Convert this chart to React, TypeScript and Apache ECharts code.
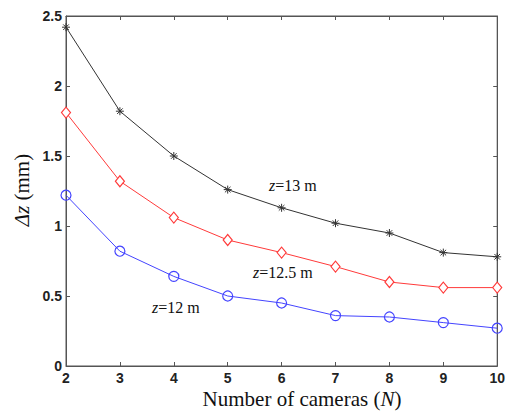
import React, { useEffect, useRef } from "react";
import * as echarts from "echarts";

const cameras = [2, 3, 4, 5, 6, 7, 8, 9, 10];
const z13 = [2.42, 1.82, 1.5, 1.26, 1.13, 1.02, 0.95, 0.81, 0.78];
const z125 = [1.81, 1.32, 1.06, 0.9, 0.81, 0.71, 0.6, 0.56, 0.56];
const z12 = [1.22, 0.82, 0.64, 0.5, 0.45, 0.36, 0.35, 0.31, 0.27];

const SERIF = "'Liberation Serif', 'Times New Roman', serif";
const SANS = "'Liberation Sans', Arial, sans-serif";
const AXIS = "#555";

const starPath = "path://M0,-10L0,10M-10,0L10,0M-7,-7L7,7M-7,7L7,-7";

function pairs(ys: number[]) {
  return cameras.map((x, i) => [x, ys[i]]);
}

export default function App() {
  const ref = useRef<HTMLDivElement>(null);
  useEffect(() => {
    document.body.style.margin = "0";
    const chart = echarts.init(ref.current!, undefined, { renderer: "svg" });
    const tickStyle = { show: true, inside: true, length: 4, lineStyle: { color: AXIS } };
    const lineStyle = { color: AXIS, width: 1 };
    const lab = { color: "#222", fontFamily: SANS, fontSize: 14, fontWeight: "bold" };
    chart.setOption({
      animation: false,
      backgroundColor: "#fff",
      grid: { left: 66, right: 9, top: 16, bottom: 46, show: true, borderColor: AXIS, borderWidth: 1 },
      xAxis: [
        {
          type: "value",
          min: 2,
          max: 10,
          interval: 1,
          axisLine: { show: true, lineStyle },
          axisTick: tickStyle,
          splitLine: { show: false },
          axisLabel: { ...lab, margin: 5 },
        },
        {
          type: "value",
          position: "top",
          min: 2,
          max: 10,
          interval: 1,
          axisLine: { show: true, onZero: false, lineStyle },
          axisTick: tickStyle,
          splitLine: { show: false },
          axisLabel: { show: false },
        },
      ],
      yAxis: [
        {
          type: "value",
          min: 0,
          max: 2.5,
          interval: 0.5,
          axisLine: { show: true, lineStyle },
          axisTick: tickStyle,
          splitLine: { show: false },
          axisLabel: { ...lab, margin: 4 },
        },
        {
          type: "value",
          position: "right",
          min: 0,
          max: 2.5,
          interval: 0.5,
          axisLine: { show: true, onZero: false, lineStyle },
          axisTick: tickStyle,
          splitLine: { show: false },
          axisLabel: { show: false },
        },
      ],
      series: [
        {
          type: "line",
          data: pairs(z13),
          symbol: starPath,
          symbolSize: 8,
          lineStyle: { color: "#333", width: 1 },
          itemStyle: { color: "transparent", borderColor: "#333", borderWidth: 1 },
        },
        {
          type: "line",
          data: pairs(z125),
          symbol: "diamond",
          symbolSize: [9, 11],
          lineStyle: { color: "#ff3a3a", width: 1 },
          itemStyle: { color: "#fff", borderColor: "#ff3a3a", borderWidth: 1.2 },
        },
        {
          type: "line",
          data: pairs(z12),
          symbol: "circle",
          symbolSize: 10,
          lineStyle: { color: "#4444ff", width: 1 },
          itemStyle: { color: "rgba(255,255,255,0)", borderColor: "#4444ff", borderWidth: 1.2 },
        },
        {
          type: "line",
          xAxisIndex: 1,
          yAxisIndex: 1,
          data: pairs(z13),
          symbol: "none",
          silent: true,
          lineStyle: { opacity: 0 },
        },
      ],
      graphic: [
        {
          type: "text",
          x: 302,
          y: 399,
          style: {
            text: "Number of cameras ({i|N})",
            font: `21px ${SERIF}`,
            fill: "#111",
            align: "center",
            verticalAlign: "middle",
            rich: { i: { fontStyle: "italic", fontSize: 21, fontFamily: SERIF, fill: "#111" } },
          },
        },
        {
          type: "text",
          x: 22,
          y: 190,
          rotation: Math.PI / 2,
          style: {
            text: "{i|Δz} (mm)",
            font: `21px ${SERIF}`,
            fill: "#111",
            align: "center",
            verticalAlign: "middle",
            rich: { i: { fontStyle: "italic", fontSize: 21, fontFamily: SERIF, fill: "#111" } },
          },
        },
        {
          type: "text",
          x: 269,
          y: 185,
          style: {
            text: "{i|z}=13 m",
            font: `16px ${SERIF}`,
            fill: "#111",
            verticalAlign: "middle",
            rich: { i: { fontStyle: "italic", fontSize: 16, fontFamily: SERIF, fill: "#111" } },
          },
        },
        {
          type: "text",
          x: 253,
          y: 272,
          style: {
            text: "{i|z}=12.5 m",
            font: `16px ${SERIF}`,
            fill: "#111",
            verticalAlign: "middle",
            rich: { i: { fontStyle: "italic", fontSize: 16, fontFamily: SERIF, fill: "#111" } },
          },
        },
        {
          type: "text",
          x: 152,
          y: 307,
          style: {
            text: "{i|z}=12 m",
            font: `16px ${SERIF}`,
            fill: "#111",
            verticalAlign: "middle",
            rich: { i: { fontStyle: "italic", fontSize: 16, fontFamily: SERIF, fill: "#111" } },
          },
        },
      ],
    });
    return () => chart.dispose();
  }, []);
  return <div ref={ref} style={{ width: 508, height: 412 }} />;
}
